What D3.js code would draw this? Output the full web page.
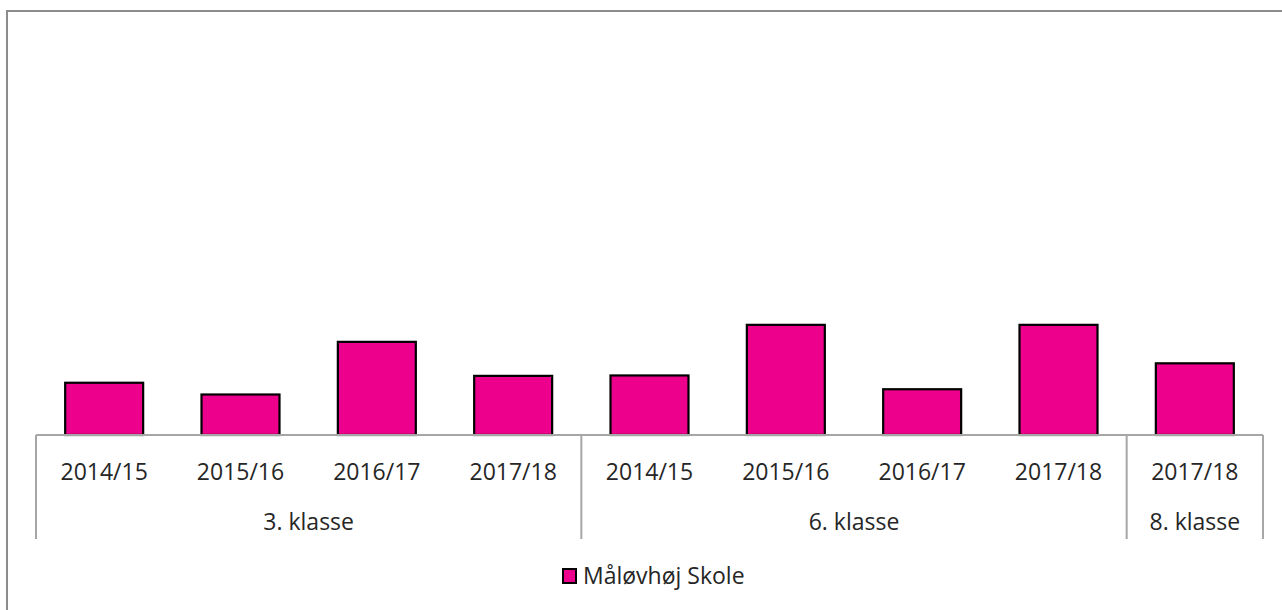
<!DOCTYPE html>
<html>
<head>
<meta charset="utf-8">
<title>Måløvhøj Skole</title>
<script src="https://cdn.jsdelivr.net/npm/d3@7"></script>
<style>
  body { margin: 0; background: #fff; }
  text { font-family: "Open Sans", "Noto Sans", sans-serif; fill: #262626; }
</style>
</head>
<body>
<div id="chart"></div>
<script>
// data (no y axis shown, so values are on a 0-100 scale)
var years  = ["2014/15", "2015/16", "2016/17", "2017/18", "2014/15", "2015/16", "2016/17", "2017/18", "2017/18"];
var grades = ["3. klasse", "3. klasse", "3. klasse", "3. klasse", "6. klasse", "6. klasse", "6. klasse", "6. klasse", "8. klasse"];
var values = [12.9, 10.0, 23.0, 14.6, 14.7, 27.2, 11.3, 27.2, 17.7];
var seriesName = "Måløvhøj Skole";

var w = 1282, h = 610;
var base = 435;     // baseline of the bars
var axisBottom = 539;
var barColor = "#EC008C";
var lineColor = "#a6a6a6";

var svg = d3.select("#chart").append("svg")
  .attr("width", w)
  .attr("height", h);

// outer chart frame (runs off the bottom and right like the screenshot)
svg.append("path")
  .attr("d", "M7,612 V11 H1290")
  .attr("fill", "none")
  .attr("stroke", "#8c8c8c")
  .attr("stroke-width", 2);

var keys = values.map(function (d, i) { return i; });

var x = d3.scaleBand()
  .domain(keys)
  .range([36, 1263])
  .paddingInner(0.428)
  .paddingOuter(0.214);

var y = d3.scaleLinear()
  .domain([0, 100])
  .range([base, 30]);

// bars
svg.append("g").selectAll("rect")
  .data(values)
  .enter()
  .append("rect")
  .attr("x", function (d, i) { return x(i); })
  .attr("width", x.bandwidth())
  .attr("y", function (d) { return y(d); })
  .attr("height", function (d) { return base - y(d); })
  .attr("fill", barColor)
  .attr("stroke", "#000")
  .attr("stroke-width", 2.2);

// category axis: baseline plus group separators
var step = x.step();
var x0 = x.range()[0], x1 = x.range()[1];

svg.append("line")
  .attr("x1", x0).attr("x2", x1)
  .attr("y1", base).attr("y2", base)
  .attr("stroke", lineColor).attr("stroke-width", 2);

// find where each grade group starts / ends
var groups = [];
grades.forEach(function (g, i) {
  if (!groups.length || groups[groups.length - 1].name !== g) {
    groups.push({ name: g, start: i, end: i });
  } else {
    groups[groups.length - 1].end = i;
  }
});

var edges = groups.map(function (g) { return x0 + g.start * step; });
edges.push(x1);

svg.append("g").selectAll("line")
  .data(edges)
  .enter()
  .append("line")
  .attr("x1", function (d) { return d; })
  .attr("x2", function (d) { return d; })
  .attr("y1", base)
  .attr("y2", axisBottom)
  .attr("stroke", lineColor)
  .attr("stroke-width", 2);

// year labels
svg.append("g").selectAll("text")
  .data(years)
  .enter()
  .append("text")
  .attr("x", function (d, i) { return x(i) + x.bandwidth() / 2; })
  .attr("y", 480)
  .attr("text-anchor", "middle")
  .attr("font-size", "23px")
  .text(function (d) { return d; });

// grade labels
svg.append("g").selectAll("text")
  .data(groups)
  .enter()
  .append("text")
  .attr("x", function (d) { return x0 + (d.start + d.end + 1) / 2 * step; })
  .attr("y", 530)
  .attr("text-anchor", "middle")
  .attr("font-size", "23px")
  .text(function (d) { return d.name; });

// legend
var legend = svg.append("g").attr("transform", "translate(563,569)");
legend.append("rect")
  .attr("width", 13).attr("height", 14)
  .attr("fill", barColor)
  .attr("stroke", "#000")
  .attr("stroke-width", 2);
legend.append("text")
  .attr("x", 20)
  .attr("y", 15)
  .attr("font-size", "23px")
  .text(seriesName);
</script>
</body>
</html>
